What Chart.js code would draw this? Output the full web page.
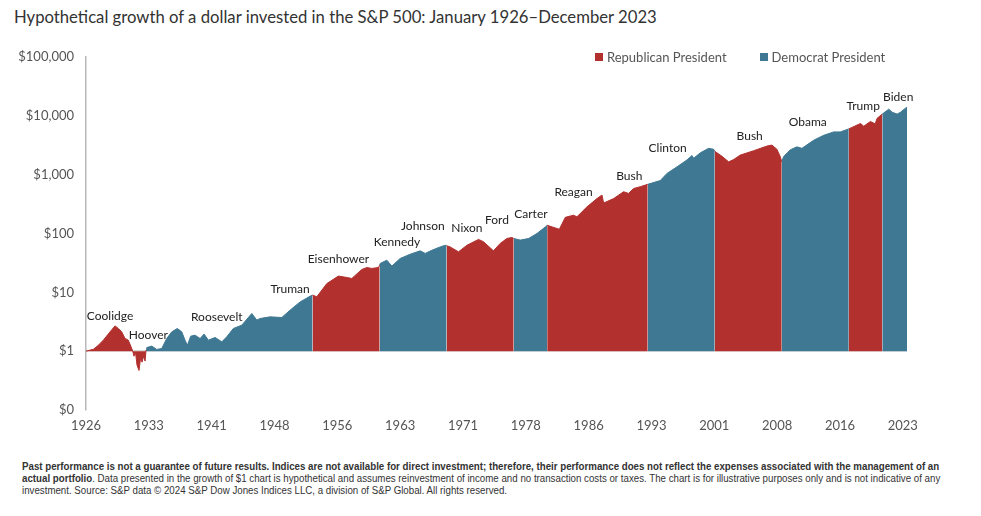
<!DOCTYPE html>
<html>
<head>
<meta charset="utf-8">
<script src="https://cdn.jsdelivr.net/npm/chart.js@4.4.1/dist/chart.umd.min.js"></script>
<style>
  body { margin: 0; background: #fff; }
  #wrap { position: relative; width: 981px; height: 516px; overflow: hidden; }
  #title { position: absolute; left: 14px; top: 7px; font: 16.7px Lato, sans-serif; color: #333; white-space: nowrap; }
  #chartBox { position: absolute; left: 0; top: 0; width: 981px; height: 440px; }
  #legend { position: absolute; top: 49px; left: 595px; font: 13px Lato, sans-serif; color: #555; white-space: nowrap; }
  #legend span.item { margin-right: 33px; }
  #legend i { display: inline-block; width: 8px; height: 8px; margin-right: 4px; vertical-align: 1px; }
  #note { position: absolute; left: 22px; top: 461px; font: 10px "Liberation Sans", Arial, sans-serif; color: #333; line-height: 12px; transform-origin: 0 0; }
  #note div { white-space: nowrap; }
</style>
</head>
<body>
<div id="wrap">
  <div id="title">Hypothetical growth of a dollar invested in the S&amp;P 500: January 1926–December 2023</div>
  <div id="chartBox"><canvas id="growthChart"></canvas></div>
  <div id="legend"></div>
  <div id="note">
    <div id="noteFirst"><b>Past performance is not a guarantee of future results. Indices are not available for direct investment; therefore, their performance does not reflect the expenses associated with the management of an</b></div>
    <div><b>actual portfolio</b>. Data presented in the growth of $1 chart is hypothetical and assumes reinvestment of income and no transaction costs or taxes. The chart is for illustrative purposes only and is not indicative of any</div>
    <div>investment. Source: S&amp;P data © 2024 S&amp;P Dow Jones Indices LLC, a division of S&amp;P Global. All rights reserved.</div>
  </div>
</div>
<script>
// growth of $1 (decimal year, dollars)
const years = [
    1926.0, 1926.9, 1927.47, 1928.07, 1928.87, 1929.46, 1929.86, 1930.26, 1930.66, 1931.05,
    1931.46, 1931.58, 1931.73, 1931.91, 1932.09, 1932.33, 1932.51, 1932.69, 1932.87, 1933.05,
    1933.17, 1933.25, 1933.85, 1934.44, 1935.04, 1935.64, 1936.24, 1936.9, 1937.43, 1937.82,
    1938.1, 1938.5, 1939.02, 1939.62, 1940.09, 1940.61, 1941.41, 1942.21, 1942.8, 1943.59,
    1944.6, 1945.79, 1946.39, 1946.78, 1947.98, 1949.37, 1950.36, 1951.56, 1952.75, 1953.05,
    1953.55, 1954.75, 1956.13, 1957.14, 1957.73, 1958.93, 1959.52, 1960.12, 1960.91, 1961.05,
    1961.11, 1961.91, 1962.51, 1963.5, 1964.7, 1965.89, 1966.49, 1967.29, 1968.28, 1968.88,
    1969.05, 1969.47, 1970.46, 1971.47, 1972.85, 1973.45, 1974.64, 1975.44, 1976.24, 1976.84,
    1977.05, 1977.83, 1978.82, 1979.83, 1980.82, 1981.05, 1982.5, 1983.21, 1984.2, 1984.6,
    1985.8, 1986.99, 1987.59, 1987.79, 1988.98, 1990.17, 1990.77, 1991.37, 1992.17, 1993.05,
    1994.55, 1995.35, 1996.55, 1997.74, 1998.34, 1998.53, 1999.33, 2000.32, 2000.92, 2001.05,
    2001.92, 2002.71, 2003.31, 2004.1, 2005.69, 2007.28, 2007.88, 2008.47, 2008.87, 2009.05,
    2009.27, 2010.07, 2010.86, 2011.46, 2012.86, 2014.05, 2015.24, 2016.04, 2017.05, 2018.44,
    2018.84, 2019.63, 2020.2, 2020.43, 2021.05, 2021.82, 2022.23, 2022.83, 2023.22, 2023.82,
    2024.0
];
const values = [
    1.0, 1.08, 1.26, 1.54, 2.13, 2.69, 2.43, 2.13, 1.64, 1.54,
    1.11, 1.0, 0.82, 0.96, 0.58, 0.47, 0.76, 0.65, 0.82, 0.68,
    1.05, 1.15, 1.22, 1.07, 1.11, 1.64, 2.13, 2.43, 2.13, 1.54,
    1.26, 1.80, 1.87, 1.64, 1.95, 1.54, 1.71, 1.44, 1.75, 2.43,
    2.77, 4.37, 3.37, 3.59, 3.83, 3.73, 4.98, 6.88, 8.6, 8.97,
    8.4, 14.1, 18.9, 17.9, 17.2, 24.5, 26.4, 25.5, 26.4, 29.0,
    30.9, 35.2, 27.9, 37.6, 44.5, 50.7, 45.9, 52, 59.2, 63.1,
    62, 59.2, 48.8, 63.1, 79.4, 72.5, 50.7, 67.7, 82.2, 85.7,
    82.2, 77.2, 82.2, 100, 129, 138, 118, 188, 205, 192,
    284, 392, 450, 330, 392, 513, 480, 583, 625, 685,
    794, 1050, 1360, 1780, 2120, 1900, 2350, 2800, 2700, 2500,
    2050, 1650, 1810, 2150, 2550, 3060, 3180, 2700, 2030, 1650,
    2030, 2640, 2970, 2800, 3850, 4660, 5330, 5330, 6000, 7400,
    6670, 8010, 7300, 9060, 10700, 12990, 11500, 10700, 11500, 13500,
    14000
];

// party in office, from each change of party
const termStarts = [1926, 1933.17, 1953.05, 1961.05, 1969.05, 1977.05, 1981.05, 1993.05, 2001.05, 2009.05, 2017.05, 2021.05];
const termParty = ['R', 'D', 'R', 'D', 'R', 'D', 'R', 'D', 'R', 'D', 'R', 'D'];

// president name labels, anchored in data coordinates
const presNames = ['Coolidge', 'Hoover', 'Roosevelt', 'Truman', 'Eisenhower', 'Kennedy', 'Johnson', 'Nixon', 'Ford',
    'Carter', 'Reagan', 'Bush', 'Clinton', 'Bush', 'Obama', 'Trump', 'Biden'];
const presLabelYears = [1928.87, 1933.44, 1941.61, 1950.36, 1956.13, 1963.11, 1966.21, 1971.47, 1975.05,
    1979.11, 1984.2, 1990.85, 1995.43, 2005.22, 2012.15, 2018.77, 2022.95];
const presLabelValues = [3.94, 1.87, 3.74, 11.2, 36.7, 72.6, 134, 125, 169,
    211, 512, 958, 2866, 4590, 7850, 14860, 21130];

const xTickValues = [1926, 1933.5, 1941, 1948.5, 1956, 1963.5, 1971, 1978.5, 1986, 1993.5, 2001, 2008.5, 2016, 2023.5];
const xTickLabels = ['1926', '1933', '1941', '1948', '1956', '1963', '1971', '1978', '1986', '1993', '2001', '2008', '2016', '2023'];
const yTickValues = [0.1, 1, 10, 100, 1000, 10000, 100000];
const yTickLabels = ['$0', '$1', '$10', '$100', '$1,000', '$10,000', '$100,000'];

const RED = '#b2302e';
const BLUE = '#3f7893';

// one series per party, broken by a null between terms
function partySeries(party) {
    const pts = [];
    termStarts.forEach((start, i) => {
        if (termParty[i] !== party) return;
        const end = i + 1 < termStarts.length ? termStarts[i + 1] : Infinity;
        if (pts.length) pts.push({ x: (pts[pts.length - 1].x + start) / 2, y: null });
        years.forEach((yr, j) => {
            if (yr >= start && yr <= end) pts.push({ x: yr, y: values[j] });
        });
    });
    return pts;
}

const presLabelPlugin = {
    id: 'presLabels',
    afterDatasetsDraw(chart) {
        const { ctx, scales: { x, y } } = chart;
        ctx.save();
        ctx.font = '12px Lato, sans-serif';
        ctx.fillStyle = '#222';
        ctx.textAlign = 'center';
        ctx.textBaseline = 'middle';
        presNames.forEach((name, i) => {
            ctx.fillText(name, x.getPixelForValue(presLabelYears[i]), y.getPixelForValue(presLabelValues[i]));
        });
        ctx.restore();
    },
};

const datasets = [
    { label: 'Republican President', data: partySeries('R'), color: RED },
    { label: 'Democrat President', data: partySeries('D'), color: BLUE },
].map(d => ({
    label: d.label,
    data: d.data,
    borderColor: d.color,
    backgroundColor: d.color,
    borderWidth: 1,
    pointRadius: 0,
    tension: 0,
    spanGaps: false,
    fill: { value: 1 },
}));

document.getElementById('legend').innerHTML = datasets
    .map(d => `<span class="item"><i style="background:${d.backgroundColor}"></i>${d.label}</span>`)
    .join('');

// squeeze the disclaimer so its first line runs to the same width as the original
const note = document.getElementById('note');
const firstWidth = document.getElementById('noteFirst').scrollWidth;
note.style.transform = `scaleX(${918 / firstWidth})`;

new Chart(document.getElementById('growthChart'), {
    type: 'line',
    data: { datasets },
    options: {
        responsive: true,
        maintainAspectRatio: false,
        animation: false,
        layout: { padding: { top: 57, right: 74, left: 0, bottom: 0 } },
        plugins: {
            legend: { display: false },
            tooltip: { enabled: false },
        },
        scales: {
            x: {
                type: 'linear',
                min: 1926,
                max: 2024,
                afterBuildTicks: scale => { scale.ticks = xTickValues.map(v => ({ value: v })); },
                afterFit: scale => { scale.height = 30; },
                grid: { display: false, drawTicks: false },
                border: { display: false },
                ticks: {
                    autoSkip: false,
                    maxRotation: 0,
                    padding: 8,
                    color: '#555',
                    font: { family: 'Lato', size: 13 },
                    callback: (value, index) => xTickLabels[index],
                },
            },
            y: {
                type: 'logarithmic',
                min: 0.1,
                max: 100000,
                afterBuildTicks: scale => { scale.ticks = yTickValues.map(v => ({ value: v })); },
                afterFit: scale => { scale.width = 86; },
                grid: {
                    drawTicks: false,
                    lineWidth: 1.5,
                    color: ctx => (ctx.tick && ctx.tick.value === 1 ? '#d6d6d6' : 'rgba(0,0,0,0)'),
                },
                border: { display: true, color: '#b8b8b8', width: 1.5 },
                ticks: {
                    padding: 12,
                    color: '#555',
                    font: { family: 'Lato', size: 13 },
                    callback: (value, index) => yTickLabels[index],
                },
            },
        },
    },
    plugins: [presLabelPlugin],
});
</script>
</body>
</html>
